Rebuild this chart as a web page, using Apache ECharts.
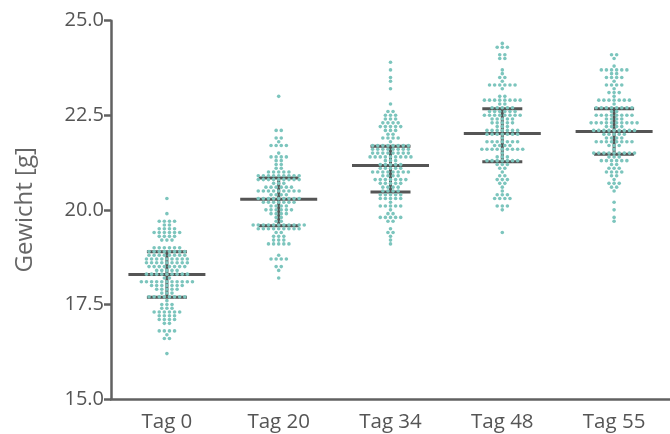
<!DOCTYPE html>
<html><head><meta charset="utf-8">
<script src="https://cdn.jsdelivr.net/npm/echarts@6/dist/echarts.min.js"></script>
<style>html,body{margin:0;padding:0;background:#fff}#c{width:670px;height:434px}</style>
</head><body><div id="c"></div>
<script>
const categories = ['Tag 0', 'Tag 20', 'Tag 34', 'Tag 48', 'Tag 55'];
const yTicks = [15, 17.5, 20, 22.5, 25];
// [Gewicht, Anzahl Tiere] per group
const tag0 = [[20.3,1],[19.9,1],[19.7,4],[19.6,2],[19.5,4],[19.4,6],[19.3,4],[19.2,3],[19.0,6],[18.9,8],[18.8,8],[18.7,9],[18.6,9],[18.5,8],[18.4,5],[18.3,9],[18.2,2],[18.1,11],[18.0,7],[17.9,5],[17.8,3],[17.7,8],[17.6,1],[17.5,3],[17.4,3],[17.3,6],[17.2,4],[17.1,4],[17.0,2],[16.8,4],[16.7,1],[16.6,2],[16.2,1]];
const tag20 = [[23.0,1],[22.1,2],[21.9,2],[21.8,1],[21.7,4],[21.5,1],[21.4,4],[21.3,2],[21.2,2],[21.1,2],[21.0,5],[20.9,9],[20.8,9],[20.7,3],[20.6,6],[20.5,9],[20.4,4],[20.3,9],[20.2,7],[20.1,4],[20.0,6],[19.9,4],[19.8,2],[19.7,2],[19.6,11],[19.5,9],[19.4,2],[19.3,3],[19.2,3],[19.1,5],[18.8,1],[18.7,4],[18.5,2],[18.4,1],[18.2,1]];
const tag34 = [[23.9,1],[23.7,1],[23.5,1],[23.4,1],[23.2,1],[22.8,1],[22.6,2],[22.5,3],[22.4,3],[22.3,4],[22.2,5],[22.1,3],[22.0,2],[21.9,4],[21.8,1],[21.7,8],[21.6,8],[21.5,8],[21.4,9],[21.3,3],[21.2,5],[21.1,5],[21.0,8],[20.9,4],[20.8,7],[20.7,5],[20.6,4],[20.5,4],[20.4,5],[20.3,5],[20.2,1],[20.1,5],[20.0,1],[19.9,2],[19.8,5],[19.7,2],[19.5,1],[19.4,2],[19.3,1],[19.2,1],[19.1,1]];
const tag48 = [[24.4,1],[24.3,3],[24.1,2],[24.0,2],[23.7,1],[23.6,1],[23.5,2],[23.4,1],[23.3,6],[23.2,1],[23.0,2],[22.9,8],[22.8,2],[22.7,5],[22.6,6],[22.5,8],[22.4,5],[22.3,5],[22.2,3],[22.1,7],[22.0,7],[21.9,1],[21.8,7],[21.7,4],[21.6,9],[21.5,1],[21.4,3],[21.3,7],[21.2,3],[21.1,2],[21.0,1],[20.9,2],[20.8,3],[20.7,2],[20.6,1],[20.5,1],[20.4,3],[20.3,4],[20.1,3],[20.0,1],[19.4,1]];
const tag55 = [[24.1,2],[24.0,1],[23.8,1],[23.7,6],[23.6,2],[23.5,4],[23.4,1],[23.3,4],[23.2,1],[23.1,3],[23.0,1],[22.9,7],[22.8,1],[22.7,8],[22.6,2],[22.5,8],[22.4,4],[22.3,10],[22.2,4],[22.1,9],[22.0,5],[21.9,4],[21.8,8],[21.7,3],[21.6,1],[21.5,9],[21.4,3],[21.3,6],[21.2,2],[21.1,3],[21.0,4],[20.9,2],[20.8,1],[20.7,3],[20.6,2],[20.5,1],[20.2,1],[20.0,1],[19.8,1],[19.7,1]];
// Mittelwert and SD range
const means = [18.29, 20.28, 21.17, 22.02, 22.07];
const sdHigh = [18.89, 20.84, 21.68, 22.67, 22.67];
const sdLow = [17.69, 19.58, 20.47, 21.27, 21.47];

const groups = [tag0, tag20, tag34, tag48, tag55];
const GRID_LEFT = 111, GRID_WIDTH = 569;
const pxPerUnit = GRID_WIDTH / categories.length;
const DOT_SPACING_PX = 5.2;

// simple row-wise swarm layout
const points = [];
groups.forEach((rows, g) => {
  rows.forEach(([v, n]) => {
    for (let i = 0; i < n; i++) {
      const off = (i - (n - 1) / 2) * DOT_SPACING_PX / pxPerUnit;
      points.push([g + off, v]);
    }
  });
});
const barData = means.map((m, i) => [i, m, sdHigh[i], sdLow[i]]);

const chart = echarts.init(document.getElementById('c'), null, {renderer: 'canvas'});
const FONT = '"Open Sans", "Noto Sans", sans-serif';
const AXIS_COLOR = '#616161';
chart.setOption({
  animation: false,
  grid: {left: GRID_LEFT, width: GRID_WIDTH, top: 20.7, bottom: 35, containLabel: false},
  xAxis: [
    {type: 'category', data: categories, boundaryGap: true,
     axisLine: {show: true, onZero: false, lineStyle: {color: AXIS_COLOR, width: 2.5}},
     axisTick: {show: false},
     axisLabel: {fontFamily: FONT, fontSize: 20.5, color: '#555', margin: 13},
     splitLine: {show: false}},
    {type: 'value', min: -0.5, max: categories.length - 0.5, show: false}
  ],
  yAxis: {type: 'value', min: yTicks[0], max: yTicks[yTicks.length - 1], interval: 2.5,
    name: 'Gewicht [g]', nameLocation: 'middle', nameGap: 74,
    nameTextStyle: {fontFamily: FONT, fontSize: 24, color: '#666'},
    axisLine: {show: true, onZero: false, lineStyle: {color: AXIS_COLOR, width: 2.5}},
    axisTick: {show: true, length: 7, lineStyle: {color: AXIS_COLOR, width: 2.5}},
    axisLabel: {fontFamily: FONT, fontSize: 20, color: '#555', margin: 7,
      formatter: v => v.toFixed(1)},
    splitLine: {show: false}},
  series: [
    {type: 'custom', xAxisIndex: 1, z: 1, data: barData,
     renderItem: (params, api) => {
       const c = api.coord([api.value(0), api.value(1)]);
       const hi = api.coord([api.value(0), api.value(2)]);
       const lo = api.coord([api.value(0), api.value(3)]);
       const st = {stroke: '#555', lineWidth: 3};
       const mh = 38.5, ch = 20;
       return {type: 'group', children: [
         {type: 'line', shape: {x1: c[0] - mh, y1: c[1], x2: c[0] + mh, y2: c[1]}, style: st},
         {type: 'line', shape: {x1: hi[0], y1: hi[1], x2: lo[0], y2: lo[1]}, style: st},
         {type: 'line', shape: {x1: hi[0] - ch, y1: hi[1], x2: hi[0] + ch, y2: hi[1]}, style: st},
         {type: 'line', shape: {x1: lo[0] - ch, y1: lo[1], x2: lo[0] + ch, y2: lo[1]}, style: st}
       ]};
     }},
    {type: 'scatter', xAxisIndex: 1, z: 2, data: points, symbolSize: 3.6,
     itemStyle: {color: '#7cc5bd', opacity: 1}}
  ]
});
</script></body></html>
